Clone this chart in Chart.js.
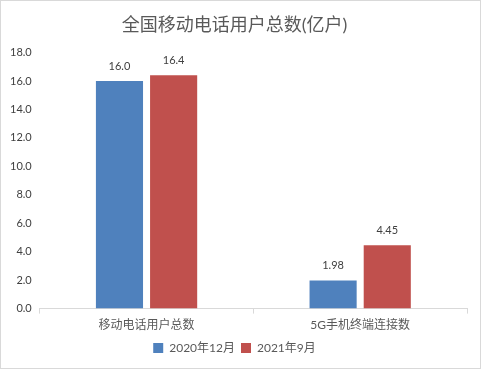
<!DOCTYPE html>
<html>
<head>
<meta charset="utf-8">
<script src="https://cdn.jsdelivr.net/npm/chart.js@4"></script>
<style>
html,body{margin:0;padding:0;background:#fff;}
#wrap{width:482px;height:370px;position:relative;}
</style>
</head>
<body>
<div id="wrap"><canvas id="c" width="482" height="370"></canvas></div>
<script>
const categories = ['移动电话用户总数', '5G手机终端连接数'];
const series2020Dec = [16.0, 1.98];
const series2021Sep = [16.4, 4.45];
const seriesNames = ['2020年12月', '2021年9月'];
const labelDecimals = [1, 2];
const titleText = '全国移动电话用户总数(亿户)';

const FONT = "Lato, 'Noto Sans CJK SC', sans-serif";
const TEXT = '#595959';

const frame = {
  id: 'frame',
  beforeDraw(chart) {
    const ctx = chart.ctx;
    ctx.save();
    ctx.fillStyle = '#fff';
    ctx.fillRect(0, 0, chart.width, chart.height);
    ctx.strokeStyle = '#d9d9d9';
    ctx.lineWidth = 1;
    ctx.strokeRect(0.5, 0.5, 480, 368);
    ctx.restore();
  }
};

const valueLabels = {
  id: 'valueLabels',
  afterDatasetsDraw(chart) {
    const ctx = chart.ctx;
    ctx.save();
    ctx.font = "11px " + FONT;
    ctx.fillStyle = '#404040';
    ctx.textAlign = 'center';
    ctx.textBaseline = 'bottom';
    chart.data.datasets.forEach((ds, di) => {
      chart.getDatasetMeta(di).data.forEach((bar, i) => {
        ctx.fillText(ds.data[i].toFixed(labelDecimals[i]), bar.x, bar.y - 9);
      });
    });
    ctx.restore();
  }
};

new Chart(document.getElementById('c'), {
  type: 'bar',
  data: {
    labels: categories,
    datasets: [
      { label: seriesNames[0], data: series2020Dec, backgroundColor: '#4F81BD' },
      { label: seriesNames[1], data: series2021Sep, backgroundColor: '#C0504D' }
    ]
  },
  options: {
    responsive: false,
    animation: false,
    devicePixelRatio: 1,
    categoryPercentage: 0.507,
    barPercentage: 0.87,
    layout: { padding: { left: 2, right: 15, top: 0, bottom: 6 } },
    plugins: {
      title: {
        display: true,
        text: titleText,
        color: TEXT,
        font: { family: FONT, size: 18, weight: 'normal' },
        padding: { top: 14, bottom: 17 }
      },
      legend: {
        position: 'bottom',
        labels: {
          color: TEXT,
          font: { family: FONT, size: 12 },
          boxWidth: 10,
          boxHeight: 10,
          padding: 6
        }
      },
      tooltip: { enabled: false }
    },
    scales: {
      y: {
        min: 0,
        max: 18,
        ticks: {
          stepSize: 2,
          color: '#404040',
          font: { family: FONT, size: 11 },
          padding: 8,
          callback: v => Number(v).toFixed(1)
        },
        grid: { display: false, drawTicks: false },
        border: { display: false }
      },
      x: {
        ticks: {
          color: TEXT,
          font: { family: FONT, size: 12 },
          padding: 4
        },
        grid: { display: true, drawOnChartArea: false, color: '#d9d9d9', tickLength: 5, offset: true },
        border: { display: true, color: '#d9d9d9' }
      }
    }
  },
  plugins: [frame, valueLabels]
});
</script>
</body>
</html>
